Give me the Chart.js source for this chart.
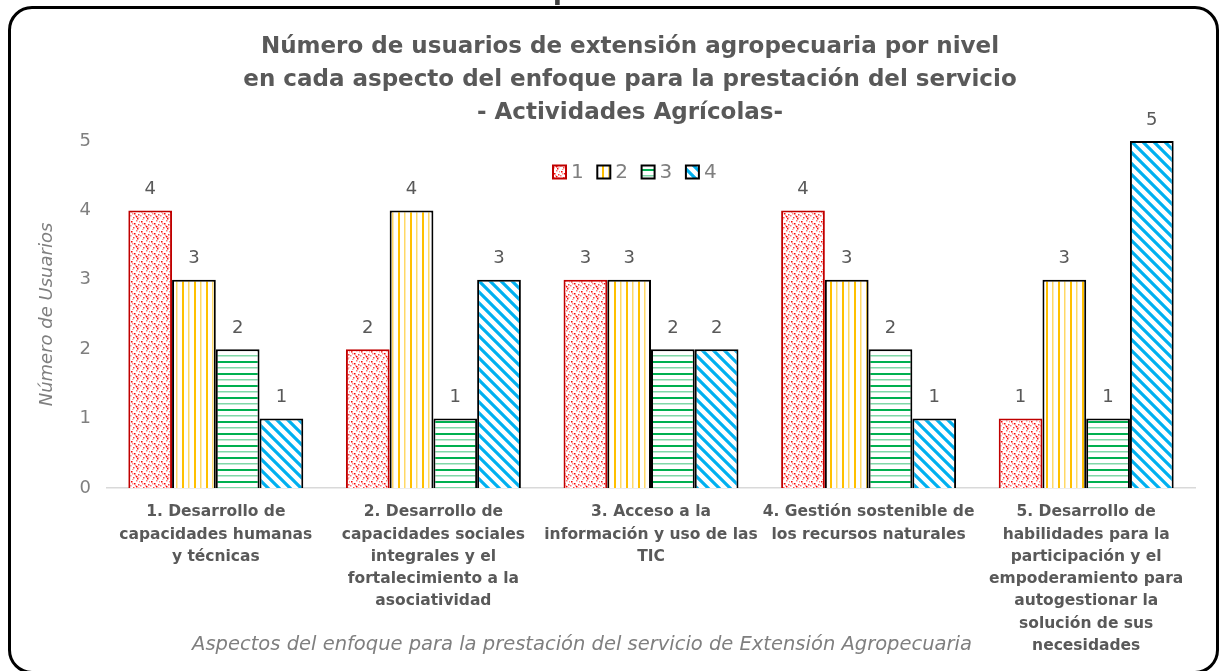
<!DOCTYPE html>
<html>
<head>
<meta charset="utf-8">
<script src="https://cdn.jsdelivr.net/npm/chart.js@4.4.0/dist/chart.umd.min.js"></script>
<style>
  body { margin: 0; background: #fff; }
  #wrap { position: relative; width: 1222px; height: 671px; overflow: hidden; }
  #frame { position: absolute; left: 8px; top: 6px; width: 1205px; height: 662px;
           border: 3px solid #000; border-radius: 24px; pointer-events: none; }
  #cut { position: absolute; left: 478px; top: -25px; font: bold 26px "DejaVu Sans"; color: #404040; }
</style>
</head>
<body>
<div id="wrap">
  <div id="cut">enfoque</div>
  <canvas id="nivelesChart" width="1222" height="671"></canvas>
  <div id="frame"></div>
</div>
<script>
// aspectos del enfoque (eje x, en varias lineas)
var aspectos = [
  ['1. Desarrollo de', 'capacidades humanas', 'y técnicas'],
  ['2. Desarrollo de', 'capacidades sociales', 'integrales y el', 'fortalecimiento a la', 'asociatividad'],
  ['3. Acceso a la', 'información y uso de las', 'TIC'],
  ['4. Gestión sostenible de', 'los recursos naturales'],
  ['5. Desarrollo de', 'habilidades para la', 'participación y el', 'empoderamiento para', 'autogestionar la', 'solución de sus', 'necesidades']
];
var niveles = ['1', '2', '3', '4'];
var nivel1 = [4, 2, 3, 4, 1];
var nivel2 = [3, 4, 3, 3, 3];
var nivel3 = [2, 1, 2, 2, 1];
var nivel4 = [1, 3, 2, 1, 5];

var FONT = '"DejaVu Sans"';

function patron(w, h, dibujar) {
    var c = document.createElement('canvas');
    c.width = w; c.height = h;
    var g = c.getContext('2d');
    g.fillStyle = '#fff';
    g.fillRect(0, 0, w, h);
    dibujar(g);
    return g.createPattern(c, 'repeat');
}

var puntos = patron(10, 10, function(g) {
    var p = [[1,1,'#ff0000'],[6,0,'#ff7070'],[4,3,'#ff0000'],[8,4,'#ff4040'],[0,5,'#ff7070'],
             [3,7,'#ff4040'],[7,8,'#ff0000'],[5,5,'#ff9090'],[9,1,'#ff9090'],[2,9,'#ff9090'],
             [6,6,'#ff0000'],[2,3,'#ff9090'],[8,7,'#ffb0b0']];
    p.forEach(function(d) { g.fillStyle = d[2]; g.fillRect(d[0], d[1], 1.5, 1.5); });
});
var verticales = patron(12, 4, function(g) {
    g.fillStyle = '#ffc000'; g.fillRect(2, 0, 2, 4);
    g.fillStyle = '#ffd966'; g.fillRect(8, 0, 1.5, 4);
});
var horizontales = patron(4, 12, function(g) {
    g.fillStyle = '#00b050'; g.fillRect(0, 1, 4, 2);
    g.fillStyle = '#80d8a8'; g.fillRect(0, 7, 4, 1.5);
});
var diagonales = patron(11, 11, function(g) {
    g.strokeStyle = '#00b0f0';
    g.lineWidth = 3.2;
    g.beginPath();
    g.moveTo(-2, -2); g.lineTo(13, 13);
    g.moveTo(-2, 9); g.lineTo(2, 13);
    g.moveTo(9, -2); g.lineTo(13, 2);
    g.stroke();
});

var etiquetasValor = {
    id: 'etiquetasValor',
    afterDatasetsDraw: function(chart) {
        var ctx = chart.ctx;
        ctx.save();
        ctx.font = '18px ' + FONT;
        ctx.fillStyle = '#595959';
        ctx.textAlign = 'center';
        ctx.textBaseline = 'middle';
        chart.data.datasets.forEach(function(ds, i) {
            chart.getDatasetMeta(i).data.forEach(function(bar, j) {
                ctx.fillText(ds.data[j], bar.x, bar.y - 21);
            });
        });
        ctx.restore();
    }
};

// leyenda horizontal dentro del area del grafico
var leyenda = {
    id: 'leyenda',
    afterDraw: function(chart) {
        var ctx = chart.ctx;
        var x = 553, y = 172;
        ctx.save();
        ctx.font = '20px ' + FONT;
        ctx.textBaseline = 'middle';
        chart.data.datasets.forEach(function(ds) {
            ctx.fillStyle = ds.backgroundColor;
            ctx.fillRect(x, y - 6.5, 13, 13);
            ctx.strokeStyle = ds.borderColor;
            ctx.lineWidth = 2;
            ctx.strokeRect(x, y - 6.5, 13, 13);
            ctx.fillStyle = '#7f7f7f';
            ctx.fillText(ds.label, x + 18, y + 1);
            x += 44.3;
        });
        ctx.restore();
    }
};

var tituloX = {
    id: 'tituloX',
    afterDraw: function(chart) {
        var ctx = chart.ctx;
        ctx.save();
        ctx.font = 'italic 19.5px ' + FONT;
        ctx.fillStyle = '#7f7f7f';
        ctx.textAlign = 'center';
        ctx.textBaseline = 'middle';
        ctx.fillText('Aspectos del enfoque para la prestación del servicio de Extensión Agropecuaria', 582, 645);
        ctx.restore();
    }
};

document.addEventListener('DOMContentLoaded', function() {
    var ctx = document.getElementById('nivelesChart');
    var rellenos = [puntos, verticales, horizontales, diagonales];
    var bordes = ['#c00000', '#000000', '#000000', '#000000'];
    var series = [nivel1, nivel2, nivel3, nivel4];

    new Chart(ctx, {
        type: 'bar',
        data: {
            labels: aspectos,
            datasets: series.map(function(d, i) {
                return {
                    label: niveles[i],
                    data: d,
                    backgroundColor: rellenos[i],
                    borderColor: bordes[i],
                    borderWidth: 2,
                    categoryPercentage: 0.804,
                    barPercentage: 1
                };
            })
        },
        options: {
            responsive: false,
            animation: false,
            layout: { padding: { left: 38, right: 0, top: 0, bottom: 0 } },
            plugins: {
                title: {
                    display: true,
                    text: ['Número de usuarios de extensión agropecuaria por nivel',
                           'en cada aspecto del enfoque para la prestación del servicio',
                           '- Actividades Agrícolas-'],
                    color: '#595959',
                    font: { family: FONT, size: 23, weight: 'bold', lineHeight: 1.42 },
                    padding: { top: 31, bottom: 12 }
                },
                legend: { display: false },
                tooltip: { enabled: false }
            },
            scales: {
                x: {
                    grid: { display: false, drawTicks: false },
                    border: { display: true, color: '#d9d9d9', width: 1.5 },
                    ticks: {
                        autoSkip: false,
                        maxRotation: 0,
                        minRotation: 0,
                        padding: 13,
                        color: '#595959',
                        font: { family: FONT, size: 15.5, weight: 'bold', lineHeight: 1.44 }
                    },
                    afterFit: function(scale) { scale.height = 183; }
                },
                y: {
                    min: 0,
                    max: 5,
                    grid: { display: false, drawTicks: false },
                    border: { display: false },
                    ticks: {
                        stepSize: 1,
                        padding: 16,
                        color: '#7f7f7f',
                        font: { family: FONT, size: 18 }
                    },
                    title: {
                        display: true,
                        text: 'Número de Usuarios',
                        color: '#7f7f7f',
                        font: { family: FONT, size: 18, style: 'italic', lineHeight: 1 },
                        padding: { top: 0, bottom: 0 }
                    },
                    afterFit: function(scale) { scale.width = 69; }
                },
                // eje vacio a la derecha, solo reserva el margen
                derecha: {
                    position: 'right',
                    min: 0,
                    max: 5,
                    grid: { display: false, drawTicks: false },
                    border: { display: false },
                    ticks: { display: false },
                    afterFit: function(scale) { scale.width = 27; }
                }
            }
        },
        plugins: [etiquetasValor, leyenda, tituloX]
    });
});
</script>
</body>
</html>
